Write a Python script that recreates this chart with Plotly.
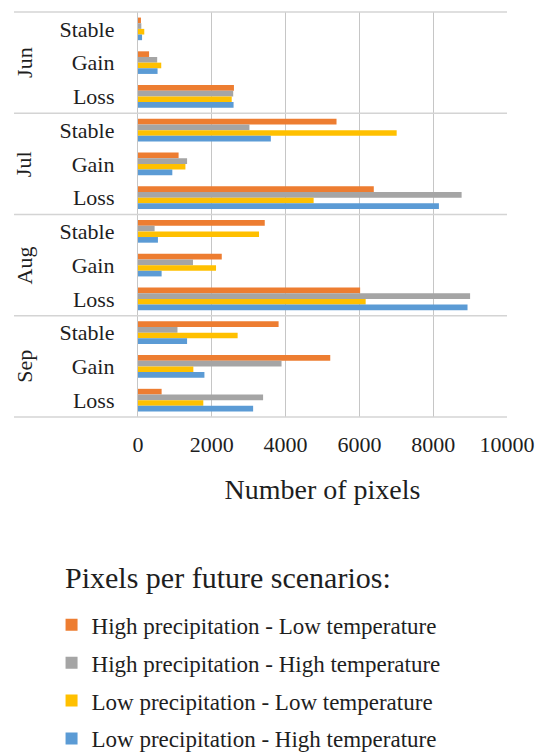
import plotly.graph_objects as go

# Pixel counts per month and change class for each future climate scenario
months = ["Jun", "Jul", "Aug", "Sep"]
classes = ["Stable", "Gain", "Loss"]

scenario_names = [
    "High precipitation - Low temperature",
    "High precipitation - High temperature",
    "Low precipitation - Low temperature",
    "Low precipitation - High temperature",
]
scenario_colors = ["#ED7D31", "#A5A5A5", "#FFC000", "#5B9BD5"]

# values ordered as Jun(Stable, Gain, Loss), Jul(...), Aug(...), Sep(...)
high_prec_low_temp = [80, 300, 2600, 5380, 1100, 6390, 3435, 2270, 6020, 3810, 5210, 640]
high_prec_high_temp = [90, 520, 2580, 3020, 1330, 8770, 450, 1490, 9000, 1070, 3890, 3390]
low_prec_low_temp = [170, 630, 2540, 7010, 1285, 4760, 3280, 2115, 6170, 2700, 1500, 1770]
low_prec_high_temp = [110, 530, 2590, 3600, 930, 8155, 540, 640, 8930, 1330, 1800, 3120]

series = [high_prec_low_temp, high_prec_high_temp, low_prec_low_temp, low_prec_high_temp]

x_ticks = [0, 2000, 4000, 6000, 8000, 10000]

cat_keys = [f"{m}-{c}" for m in months for c in classes]
cat_text = [c for m in months for c in classes]

FONT = "Liberation Serif, Times New Roman, serif"
TEXT = "#1e1e1e"
GRID = "#c6c6c6"
RULE = "#d4d4d4"

W, H = 537, 756
M_L, M_R, M_T, M_B = 138, 30, 12, 339
PLOT_W = W - M_L - M_R
PLOT_H = H - M_T - M_B

fig = go.Figure()
for i, (name, color, vals) in enumerate(zip(scenario_names, scenario_colors, series)):
    fig.add_trace(go.Bar(
        y=cat_keys, x=vals, name=name, orientation="h",
        marker=dict(color=color, line=dict(width=0)),
        legendgroup=f"g{i}",
    ))

# horizontal rules separating the months, reaching into the label column
n_m = len(months)
for k in range(n_m + 1):
    yk = 1 - k / n_m
    fig.add_shape(type="line", xref="paper", yref="paper",
                  x0=-0.336, x1=1, y0=yk, y1=yk,
                  line=dict(color=RULE, width=1.3))

# rotated month names beside each block of classes
for m in months:
    fig.add_annotation(x=-0.30, xref="paper", y=f"{m}-Gain", yref="y",
                       text=m, textangle=-90, showarrow=False,
                       font=dict(family=FONT, size=22, color=TEXT),
                       xanchor="center", yanchor="middle", xshift=-3)

# heading above the scenario legend (placed in page pixels -> paper space)
fig.add_annotation(x=(63 - M_L) / PLOT_W, y=(H - M_B - 577) / PLOT_H,
                   xref="paper", yref="paper",
                   text="Pixels per future scenarios:", showarrow=False,
                   font=dict(family=FONT, size=30, color=TEXT),
                   xanchor="left", yanchor="middle")

fig.update_layout(
    width=W, height=H,
    margin=dict(l=M_L, r=M_R, t=M_T, b=M_B, autoexpand=False),
    paper_bgcolor="white", plot_bgcolor="white",
    barmode="group", bargap=0.33, bargroupgap=0,
    font=dict(family=FONT, color=TEXT),
    showlegend=True,
    legend=dict(
        font=dict(family=FONT, size=23, color=TEXT),
        xref="container", yref="container",
        x=0.096, y=0.202, xanchor="left", yanchor="top",
        traceorder="grouped", tracegroupgap=5,
        itemclick=False, bgcolor="rgba(0,0,0,0)",
    ),
)

fig.update_xaxes(
    range=[0, 10000], tickvals=x_ticks, ticktext=[str(v) for v in x_ticks],
    showgrid=True, gridcolor=GRID, gridwidth=1.3,
    zeroline=False, showline=False, ticks="", automargin=False,
    tickfont=dict(family=FONT, size=22, color=TEXT),
    tickangle=0, ticklabelstandoff=12,
    title=dict(text="Number of pixels", standoff=23,
               font=dict(family=FONT, size=28, color=TEXT)),
)

fig.update_yaxes(
    type="category", categoryorder="array", categoryarray=cat_keys,
    tickvals=cat_keys, ticktext=cat_text, autorange="reversed",
    showgrid=False, zeroline=False, automargin=False,
    showline=True, linecolor=GRID, linewidth=1.3, ticks="",
    tickfont=dict(family=FONT, size=22, color=TEXT),
    ticklabelstandoff=18,
)

fig.write_html("out.html")
